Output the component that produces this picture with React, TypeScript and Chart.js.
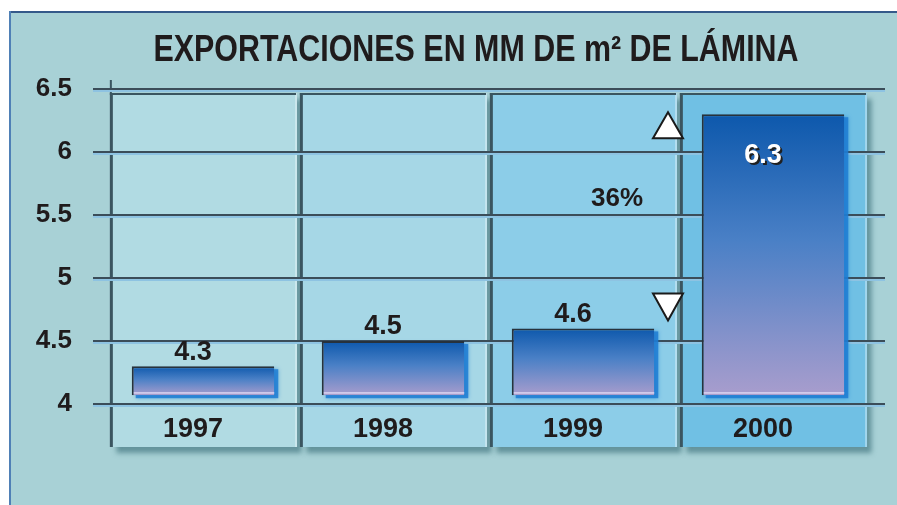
import React, { useEffect, useRef } from "react";
import { Chart, registerables } from "chart.js";

Chart.register(...registerables);

const CATEGORIES = ["1997", "1998", "1999", "2000"];
const VALUES = [4.3, 4.5, 4.6, 6.3];
const VALUE_LABELS = ["4.3", "4.5", "4.6", "6.3"];
const Y_MIN = 4;
const Y_MAX = 6.5;
const Y_STEP = 0.5;
const BAR_BASE = 4.07;
const TITLE = "EXPORTACIONES EN MM DE m² DE LÁMINA";
const CHANGE_LABEL = "36%";
const CHANGE_FROM = 4.6;
const CHANGE_TO = 6.3;

const PANEL_COLORS = ["#b1dbe3", "#a6d7e6", "#8ccde8", "#70c0e4"];
const FONT = "'Liberation Sans', Arial, sans-serif";
const INK = "#1f1b1c";

const decorPlugin = {
  id: "decor",
  beforeDraw(chart: any) {
    const { ctx, chartArea: ca, scales, width, height } = chart;
    const x = scales.x;
    const y = scales.y;
    ctx.save();
    ctx.fillStyle = "#ffffff";
    ctx.fillRect(0, 0, width, height);
    ctx.fillStyle = "#a8d1d6";
    ctx.fillRect(10, 12, width - 10, height - 12);
    ctx.fillStyle = "#34598a";
    ctx.fillRect(9, 11, width - 9, 2);
    ctx.fillStyle = "#4f80b6";
    ctx.fillRect(9, 11, 2, height - 11);

    const step = x.getPixelForValue(1) - x.getPixelForValue(0);
    const top = ca.top + 4;
    const bottom = ca.bottom + 43;
    for (let i = 0; i < CATEGORIES.length; i++) {
      const cx = x.getPixelForValue(i);
      const left = cx - step * 0.485;
      const w = step * 0.98;
      ctx.save();
      ctx.shadowColor = "rgba(40,95,105,0.55)";
      ctx.shadowOffsetX = 5;
      ctx.shadowOffsetY = 6;
      ctx.shadowBlur = 5;
      ctx.fillStyle = PANEL_COLORS[i];
      ctx.fillRect(left, top, w, bottom - top);
      ctx.restore();
      ctx.fillStyle = "rgba(255,255,255,0.35)";
      ctx.fillRect(left + w - 2, top, 2, bottom - top);
      ctx.fillStyle = "#3a5560";
      ctx.fillRect(left - 1, top, 3, bottom - top);
      ctx.fillRect(left - 1, top, w, 2);
    }
    // short tick above first panel edge
    ctx.fillStyle = "#3a5560";
    ctx.fillRect(x.getPixelForValue(0) - step * 0.485 - 1, ca.top - 9, 2, 13);

    for (const t of y.ticks) {
      const py = Math.round(y.getPixelForValue(t.value));
      const x0 = ca.left - 15;
      const x1 = ca.right + 17;
      ctx.fillStyle = "#3b4d59";
      ctx.fillRect(x0, py - 1, x1 - x0, 2);
      ctx.fillStyle = "#8ec3e2";
      ctx.fillRect(x0, py + 1, x1 - x0, 2);
    }
    ctx.restore();
  },
  beforeDatasetsDraw(chart: any) {
    const ctx = chart.ctx;
    const meta = chart.getDatasetMeta(0);
    ctx.save();
    ctx.shadowColor = "rgba(20,120,215,0.7)";
    ctx.shadowBlur = 4;
    ctx.fillStyle = "rgba(30,125,210,0.85)";
    meta.data.forEach((el: any) => {
      const w = el.width;
      ctx.fillRect(el.x - w / 2 + 4, el.y + 3, w, el.base - el.y);
    });
    ctx.restore();
  },
  afterDatasetsDraw(chart: any) {
    const { ctx, scales } = chart;
    const x = scales.x;
    const y = scales.y;
    const meta = chart.getDatasetMeta(0);
    ctx.save();
    // bottom highlight on bars
    ctx.fillStyle = "rgba(225,218,245,0.9)";
    meta.data.forEach((el: any) => {
      const w = el.width;
      ctx.fillRect(el.x - w / 2 + 2, el.base - 3, w - 2, 1.5);
    });

    ctx.textAlign = "center";
    ctx.textBaseline = "middle";
    ctx.font = `bold 27px ${FONT}`;
    meta.data.forEach((el: any, i: number) => {
      const h = el.base - el.y;
      if (h > 120) {
        ctx.fillStyle = "#202020";
        ctx.fillText(VALUE_LABELS[i], el.x - 8, el.y + 43);
        ctx.fillStyle = "#ffffff";
        ctx.fillText(VALUE_LABELS[i], el.x - 10, el.y + 41);
      } else {
        ctx.fillStyle = INK;
        ctx.fillText(VALUE_LABELS[i], el.x - 10, el.y - 14);
      }
    });

    const step = x.getPixelForValue(1) - x.getPixelForValue(0);
    const tx = x.getPixelForValue(2) + step / 2 - 10;
    const yUp = y.getPixelForValue(CHANGE_TO) - 2;
    const yDown = y.getPixelForValue(CHANGE_FROM) - 8;
    ctx.fillStyle = "#ffffff";
    ctx.strokeStyle = "#1a1a1a";
    ctx.lineWidth = 2;
    ctx.lineJoin = "miter";
    ctx.beginPath();
    ctx.moveTo(tx, yUp);
    ctx.lineTo(tx + 15, yUp + 26);
    ctx.lineTo(tx - 15, yUp + 26);
    ctx.closePath();
    ctx.fill();
    ctx.stroke();
    ctx.beginPath();
    ctx.moveTo(tx, yDown);
    ctx.lineTo(tx + 15, yDown - 27);
    ctx.lineTo(tx - 15, yDown - 27);
    ctx.closePath();
    ctx.fill();
    ctx.stroke();

    ctx.fillStyle = INK;
    ctx.font = `bold 26px ${FONT}`;
    ctx.fillText(CHANGE_LABEL, tx - 51, y.getPixelForValue(5.6) - 4);
    ctx.restore();
  },
  afterDraw(chart: any) {
    const { ctx, chartArea: ca } = chart;
    ctx.save();
    ctx.fillStyle = INK;
    ctx.font = `bold 36px ${FONT}`;
    ctx.textAlign = "center";
    ctx.textBaseline = "middle";
    ctx.translate((ca.left + ca.right) / 2 - 12, ca.top - 38);
    ctx.scale(0.845, 1);
    ctx.fillText(TITLE, 0, 0);
    ctx.restore();
  },
};

function barGradient(context: any) {
  const chart = context.chart;
  const { ctx, chartArea, scales } = chart;
  if (!chartArea || !scales || !scales.y) return "#3a70c0";
  const v = context.raw;
  const yTop = scales.y.getPixelForValue(v);
  const yBot = scales.y.getPixelForValue(BAR_BASE);
  const g = ctx.createLinearGradient(0, yTop, 0, yBot);
  g.addColorStop(0, "#0d58ac");
  g.addColorStop(0.45, "#4a80c6");
  g.addColorStop(1, "#a89dcd");
  return g;
}

export default function App() {
  const ref = useRef<HTMLCanvasElement | null>(null);
  useEffect(() => {
    if (!ref.current) return;
    const chart = new Chart(ref.current, {
      type: "bar",
      data: {
        labels: CATEGORIES,
        datasets: [
          {
            data: VALUES,
            base: BAR_BASE,
            backgroundColor: barGradient,
            borderColor: "#27323c",
            borderWidth: { top: 2, left: 2, right: 0, bottom: 0 },
            borderSkipped: false,
            barPercentage: 0.75,
            categoryPercentage: 1,
          } as any,
        ],
      },
      options: {
        responsive: false,
        animation: false,
        devicePixelRatio: 1,
        layout: { padding: { top: 89, right: 29, left: 0, bottom: 0 } },
        plugins: {
          legend: { display: false },
          tooltip: { enabled: false },
          title: { display: false },
        },
        scales: {
          x: {
            grid: { display: false, drawTicks: false },
            border: { display: false },
            ticks: {
              color: INK,
              font: { family: FONT, size: 27, weight: "bold" },
              padding: 9,
              labelOffset: -10,
              maxRotation: 0,
            },
            afterFit: (s: any) => {
              s.height = 101;
            },
          },
          y: {
            min: Y_MIN,
            max: Y_MAX,
            grid: { display: false, drawTicks: false },
            border: { display: false },
            ticks: {
              stepSize: Y_STEP,
              color: INK,
              font: { family: FONT, size: 26, weight: "bold" },
              padding: 36,
              callback: (v: any) => String(Number(v)),
            },
            afterFit: (s: any) => {
              s.width = 108;
            },
          },
        },
      },
      plugins: [decorPlugin],
    });
    return () => chart.destroy();
  }, []);
  return (
    <div style={{ position: "fixed", left: 0, top: 0, width: 897, height: 505 }}>
      <canvas ref={ref} width={897} height={505} style={{ display: "block" }} />
    </div>
  );
}
